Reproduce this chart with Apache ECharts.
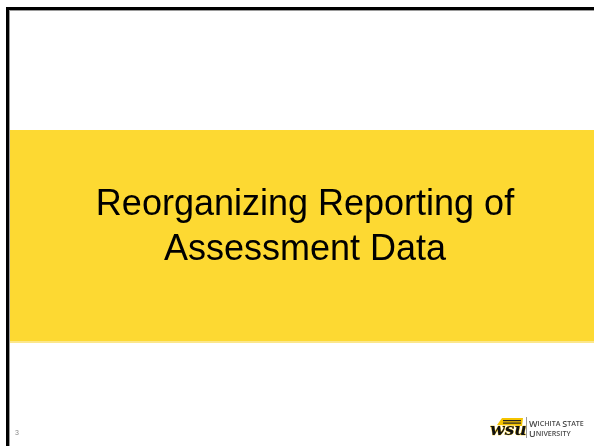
<!DOCTYPE html>
<html>
<head>
<meta charset="utf-8">
<script src="https://cdn.jsdelivr.net/npm/echarts@6/dist/echarts.min.js"></script>
<style>
html,body{margin:0;padding:0;background:#fff;}
#main{width:594px;height:446px;}
</style>
</head>
<body>
<div id="main"></div>
<script>
var titleLines = ['Reorganizing Reporting of', 'Assessment Data'];
var pageNumber = '3';
var logoMark = 'wsu';
var logoLines = [['W', 'ICHITA ', 'S', 'TATE'], ['U', 'NIVERSITY']];

var chart = echarts.init(document.getElementById('main'), null, {renderer: 'canvas'});

function smallCaps(parts) {
  var s = '';
  for (var i = 0; i < parts.length; i++) {
    s += '{' + (i % 2 === 0 ? 'big' : 'small') + '|' + parts[i] + '}';
  }
  return s;
}

var graphics = [
  // yellow band
  {type: 'rect', shape: {x: 10, y: 130, width: 584, height: 211}, style: {fill: '#FDD932'}, z: 1},
  {type: 'rect', shape: {x: 10, y: 341, width: 584, height: 2}, style: {fill: '#FCE78C'}, z: 1},
  // borders
  {type: 'rect', shape: {x: 6, y: 7, width: 3, height: 439}, style: {fill: '#000'}, z: 3},
  {type: 'rect', shape: {x: 6, y: 7, width: 588, height: 3}, style: {fill: '#000'}, z: 3},
  {type: 'rect', shape: {x: 9, y: 10, width: 1, height: 436}, style: {fill: '#9a9a9a'}, z: 3},
  {type: 'rect', shape: {x: 9, y: 10, width: 585, height: 1}, style: {fill: '#9a9a9a'}, z: 3},
  // page number
  {type: 'text', x: 17, y: 437, style: {text: pageNumber, fill: '#8a8a8a', font: '7px "Liberation Sans", Arial, sans-serif', textAlign: 'center', textVerticalAlign: 'bottom'}, z: 4},
  // logo: yellow stripe and mark
  {type: 'polygon', shape: {points: [[497, 425], [502, 418], [523, 418], [522, 426]]}, style: {fill: '#F5C400'}, z: 4},
  {type: 'rect', shape: {x: 503, y: 420, width: 18, height: 1.2}, style: {fill: '#222'}, z: 5},
  {type: 'rect', shape: {x: 503, y: 422.5, width: 18, height: 1.2}, style: {fill: '#222'}, z: 5},
  {type: 'text', x: 490, y: 439, style: {text: logoMark, fill: '#111', stroke: '#F5C400', lineWidth: 0.6, font: 'italic bold 17px "DejaVu Serif", serif', textAlign: 'left', textVerticalAlign: 'bottom'}, z: 6},
  {type: 'rect', shape: {x: 526, y: 417, width: 1, height: 21}, style: {fill: '#9a9a9a'}, z: 4}
];

for (var i = 0; i < titleLines.length; i++) {
  graphics.push({
    type: 'text', x: 305, y: 223.5 + i * 45,
    style: {text: titleLines[i], fill: '#000', font: '36px "Liberation Sans", Arial, sans-serif', textAlign: 'center', textVerticalAlign: 'bottom'},
    z: 5
  });
}
for (var j = 0; j < logoLines.length; j++) {
  graphics.push({
    type: 'text', x: 529, y: 428.5 + j * 10,
    style: {
      text: smallCaps(logoLines[j]),
      rich: {
        big: {fill: '#4a4a4a', font: '600 9px "Open Sans", "Liberation Sans", sans-serif'},
        small: {fill: '#4a4a4a', font: '600 7.1px "Open Sans", "Liberation Sans", sans-serif'}
      },
      textAlign: 'left', textVerticalAlign: 'bottom'
    },
    z: 5
  });
}

chart.setOption({
  backgroundColor: '#ffffff',
  animation: false,
  graphic: graphics
});
</script>
</body>
</html>
